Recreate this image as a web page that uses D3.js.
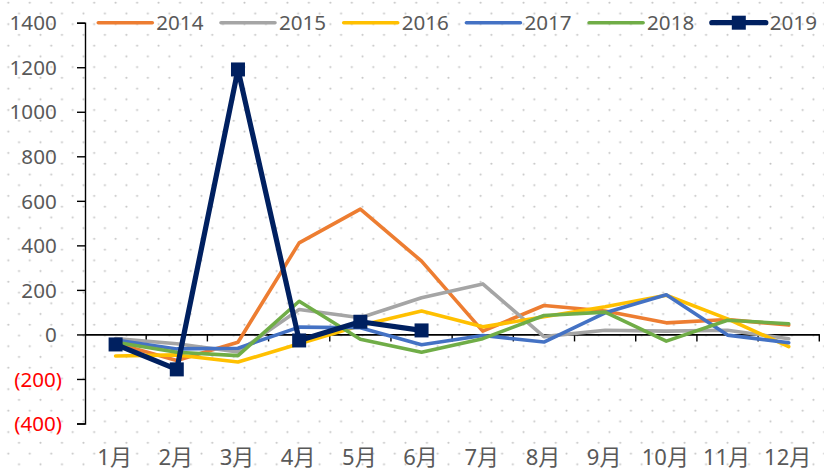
<!DOCTYPE html>
<html><head><meta charset="utf-8">
<script src="https://cdn.jsdelivr.net/npm/d3@7"></script>
<style>
html,body{margin:0;padding:0;background:#fff;}
svg{display:block;}
text{font-family:"Noto Sans","Noto Sans CJK SC",sans-serif;}
</style></head>
<body>
<svg id="chart" width="824" height="472"></svg>
<script>
const months = ["1月","2月","3月","4月","5月","6月","7月","8月","9月","10月","11月","12月"];
const years = ["2014","2015","2016","2017","2018","2019"];
const colors = ["#ED7D31","#A5A5A5","#FFC000","#4472C4","#70AD47","#002060"];
const v2014 = [-40,-117,-35,411,563,329,15,130,105,52,67,42];
const v2015 = [-19,-42,-79,112,75,165,227,-10,19,15,19,-19];
const v2016 = [-97,-92,-124,-42,40,105,34,79,124,176,70,-55];
const v2017 = [-25,-65,-62,33,30,-46,-5,-34,97,178,-3,-37];
const v2018 = [-35,-80,-95,149,-22,-80,-19,85,100,-30,64,48];
const v2019 = [-45,-157,1190,-27,57,18];
const yTicks = [-400,-200,0,200,400,600,800,1000,1200,1400];

const seriesValues = [v2014,v2015,v2016,v2017,v2018,v2019];

const svg = d3.select("#chart");
const W = 824, H = 472;
const fontSize = 20.6;

// background dot pattern
const defs = svg.append("defs");
const P = 21.47;
const pat = defs.append("pattern").attr("id","dots").attr("patternUnits","userSpaceOnUse")
  .attr("width",P).attr("height",P).attr("x",0).attr("y",0);
pat.append("circle").attr("cx",8.3).attr("cy",2.7).attr("r",1.05).attr("fill","#c4c4c4");
pat.append("circle").attr("cx",8.3+P/2).attr("cy",2.7+P/2).attr("r",1.05).attr("fill","#c4c4c4");
svg.append("rect").attr("width",W).attr("height",H).attr("fill","#fff");
svg.append("rect").attr("width",W).attr("height",H).attr("fill","url(#dots)");

const x = d3.scaleBand().domain(months).range([85,819.3]).padding(0);
const y = d3.scaleLinear().domain([-400,1400]).range([423.5,22.7]);
const cx = m => x(m) + x.bandwidth()/2;

const fmt = v => v < 0 ? "(" + Math.abs(v) + ")" : String(v);

// y axis
const yAxis = d3.axisLeft(y).tickValues(yTicks).tickSize(8).tickFormat(fmt);
const gy = svg.append("g").attr("transform","translate(85,0)").call(yAxis);
gy.select(".domain").attr("stroke","#000").attr("stroke-width",1.4);
gy.selectAll(".tick line").attr("stroke","#000").attr("stroke-width",1.4);
gy.selectAll(".tick text")
  .attr("font-size",fontSize)
  .attr("font-family",'"Noto Sans","Noto Sans CJK SC",sans-serif')
  .attr("fill",d => d < 0 ? "#FF0000" : "#595959")
  .attr("x",d => d < 0 ? -23 : -28.3)
  .attr("dy","0.35em");

// x axis at zero
const xAxis = d3.axisBottom(x).tickSize(0).tickFormat("");
const gx = svg.append("g").attr("transform",`translate(0,${y(0)})`).call(xAxis);
gx.select(".domain").attr("stroke","#000").attr("stroke-width",1.8);
gx.selectAll(".tick").remove();
const bounds = months.map(m => x(m)).concat([x.range()[1]]);
gx.selectAll("line.tk").data(bounds.slice(1)).join("line").attr("class","tk")
  .attr("x1",d=>d).attr("x2",d=>d).attr("y1",0).attr("y2",7)
  .attr("stroke","#000").attr("stroke-width",1.4);

// x labels at bottom
svg.append("g").selectAll("text").data(months).join("text")
  .attr("x",d => cx(d) - 1).attr("y",457).attr("dy","0.35em")
  .attr("text-anchor","middle").attr("font-size",22).attr("fill","#595959")
  .text(d => d);

// lines
const line = d3.line().x((d,i) => cx(months[i])).y(d => y(d));
seriesValues.forEach((vals,k) => {
  const isLast = k === 5;
  svg.append("path").datum(vals)
    .attr("d",line).attr("fill","none")
    .attr("stroke",colors[k]).attr("stroke-width",isLast ? 5.2 : 3.6)
    .attr("stroke-linejoin","round").attr("stroke-linecap","round");
  if (isLast) {
    svg.append("g").selectAll("rect").data(vals).join("rect")
      .attr("x",(d,i) => cx(months[i]) - 7).attr("y",d => y(d) - 7)
      .attr("width",14).attr("height",14).attr("fill",colors[k]);
  }
});

// legend
const leg = svg.append("g");
years.forEach((yr,k) => {
  const x0 = 98.3 + k*122.7;
  const ly = 22.7;
  leg.append("line").attr("x1",x0).attr("x2",x0+54).attr("y1",ly).attr("y2",ly)
    .attr("stroke",colors[k]).attr("stroke-width",k===5?5.2:3.6).attr("stroke-linecap","round");
  if (k===5) {
    leg.append("rect").attr("x",x0+27-7).attr("y",ly-7).attr("width",14).attr("height",14).attr("fill",colors[k]);
  }
  leg.append("text").attr("x",x0+58).attr("y",ly).attr("dy","0.35em")
    .attr("font-size",fontSize).attr("fill","#595959").text(yr);
});
</script>
</body></html>
